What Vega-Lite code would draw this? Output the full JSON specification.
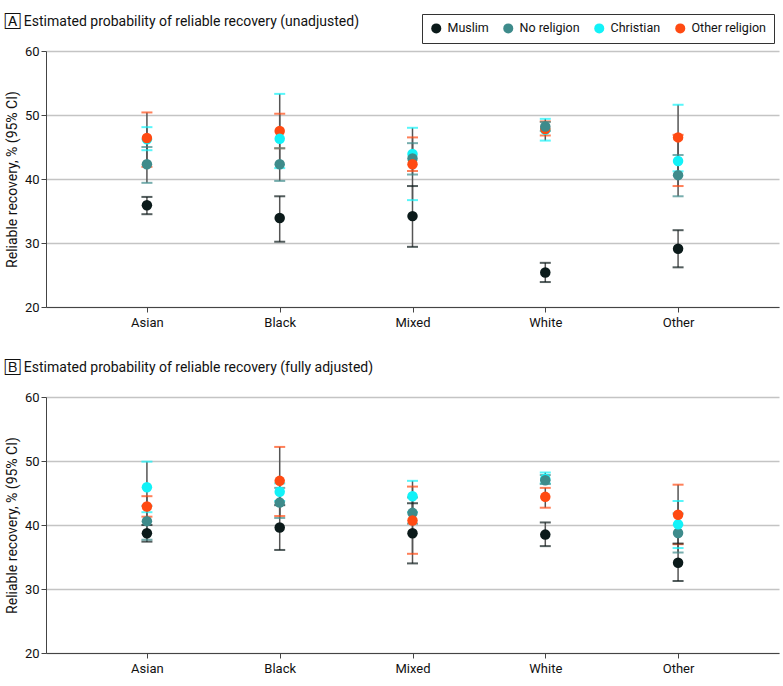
{
  "$schema": "https://vega.github.io/schema/vega-lite/v6.json",
  "padding": {"left": 5, "top": 13, "right": 5, "bottom": 5},
  "background": "white",
  "data": {
    "values": [
      {"panel": "A", "eth": "Asian", "religion": "Muslim", "est": 35.9, "lo": 34.5, "hi": 37.2},
      {"panel": "A", "eth": "Asian", "religion": "No religion", "est": 42.3, "lo": 39.4, "hi": 45.0},
      {"panel": "A", "eth": "Asian", "religion": "Christian", "est": 46.2, "lo": 44.5, "hi": 48.1},
      {"panel": "A", "eth": "Asian", "religion": "Other religion", "est": 46.4, "lo": 41.9, "hi": 50.4},
      {"panel": "A", "eth": "Black", "religion": "Muslim", "est": 33.9, "lo": 30.2, "hi": 37.3},
      {"panel": "A", "eth": "Black", "religion": "No religion", "est": 42.3, "lo": 39.7, "hi": 44.8},
      {"panel": "A", "eth": "Black", "religion": "Other religion", "est": 47.5, "lo": 44.8, "hi": 50.2},
      {"panel": "A", "eth": "Black", "religion": "Christian", "est": 46.3, "lo": 41.7, "hi": 53.3},
      {"panel": "A", "eth": "Mixed", "religion": "Muslim", "est": 34.2, "lo": 29.4, "hi": 38.9},
      {"panel": "A", "eth": "Mixed", "religion": "Christian", "est": 43.9, "lo": 36.7, "hi": 48.0},
      {"panel": "A", "eth": "Mixed", "religion": "No religion", "est": 43.2, "lo": 40.7, "hi": 45.6},
      {"panel": "A", "eth": "Mixed", "religion": "Other religion", "est": 42.3, "lo": 41.25, "hi": 46.5},
      {"panel": "A", "eth": "White", "religion": "Muslim", "est": 25.4, "lo": 23.9, "hi": 26.9},
      {"panel": "A", "eth": "White", "religion": "Christian", "est": 47.7, "lo": 46.0, "hi": 49.4},
      {"panel": "A", "eth": "White", "religion": "Other religion", "est": 47.8, "lo": 46.8, "hi": 49.0},
      {"panel": "A", "eth": "White", "religion": "No religion", "est": 48.2, "lo": 47.5, "hi": 48.9},
      {"panel": "A", "eth": "Other", "religion": "Muslim", "est": 29.1, "lo": 26.2, "hi": 32.0},
      {"panel": "A", "eth": "Other", "religion": "No religion", "est": 40.6, "lo": 37.3, "hi": 43.75},
      {"panel": "A", "eth": "Other", "religion": "Christian", "est": 42.8, "lo": 41.2, "hi": 51.6},
      {"panel": "A", "eth": "Other", "religion": "Other religion", "est": 46.5, "lo": 38.9, "hi": 46.9},
      {"panel": "B", "eth": "Asian", "religion": "Muslim", "est": 38.7, "lo": 37.4, "hi": 40.0},
      {"panel": "B", "eth": "Asian", "religion": "No religion", "est": 40.6, "lo": 37.7, "hi": 43.0},
      {"panel": "B", "eth": "Asian", "religion": "Other religion", "est": 42.9, "lo": 41.3, "hi": 44.5},
      {"panel": "B", "eth": "Asian", "religion": "Christian", "est": 45.9, "lo": 42.0, "hi": 49.9},
      {"panel": "B", "eth": "Black", "religion": "Muslim", "est": 39.6, "lo": 36.1, "hi": 43.1},
      {"panel": "B", "eth": "Black", "religion": "No religion", "est": 43.5, "lo": 41.1, "hi": 45.8},
      {"panel": "B", "eth": "Black", "religion": "Christian", "est": 45.2, "lo": 43.75, "hi": 46.5},
      {"panel": "B", "eth": "Black", "religion": "Other religion", "est": 46.9, "lo": 41.4, "hi": 52.2},
      {"panel": "B", "eth": "Mixed", "religion": "Muslim", "est": 38.7, "lo": 34.0, "hi": 43.4},
      {"panel": "B", "eth": "Mixed", "religion": "Christian", "est": 44.5, "lo": 42.0, "hi": 46.9},
      {"panel": "B", "eth": "Mixed", "religion": "No religion", "est": 41.9, "lo": 40.2, "hi": 44.3},
      {"panel": "B", "eth": "Mixed", "religion": "Other religion", "est": 40.7, "lo": 35.5, "hi": 46.0},
      {"panel": "B", "eth": "White", "religion": "Muslim", "est": 38.5, "lo": 36.7, "hi": 40.4},
      {"panel": "B", "eth": "White", "religion": "Other religion", "est": 44.4, "lo": 42.7, "hi": 45.8},
      {"panel": "B", "eth": "White", "religion": "Christian", "est": 47.2, "lo": 46.5, "hi": 48.2},
      {"panel": "B", "eth": "White", "religion": "No religion", "est": 47.0, "lo": 46.4, "hi": 47.8},
      {"panel": "B", "eth": "Other", "religion": "Muslim", "est": 34.1, "lo": 31.25, "hi": 37.1},
      {"panel": "B", "eth": "Other", "religion": "No religion", "est": 38.75, "lo": 35.7, "hi": 41.8},
      {"panel": "B", "eth": "Other", "religion": "Christian", "est": 40.1, "lo": 36.4, "hi": 43.75},
      {"panel": "B", "eth": "Other", "religion": "Other religion", "est": 41.6, "lo": 37.0, "hi": 46.3}
    ]
  },
  "config": {
    "font": "Roboto",
    "view": {"stroke": null},
    "axis": {
      "domainColor": "#444444",
      "tickColor": "#444444",
      "labelColor": "#111111",
      "titleColor": "#111111",
      "labelFontSize": 13,
      "titleFontSize": 14,
      "titleFontWeight": "normal",
      "tickSize": 5
    },
    "title": {"fontSize": 14, "fontWeight": "normal", "anchor": "start", "frame": "bounds", "color": "#111111", "offset": 16},
    "legend": {
      "orient": "none",
      "direction": "horizontal",
      "legendX": 376,
      "legendY": -37,
      "strokeColor": "#333333",
      "padding": 8,
      "labelFontSize": 12.5,
      "labelColor": "#111111",
      "symbolType": "circle",
      "symbolSize": 100,
      "symbolOpacity": 1,
      "symbolStrokeWidth": 0,
      "columnPadding": 13,
      "labelOffset": 5
    }
  },
  "spacing": 32,
  "vconcat": [
    {
      "title": "🄰 Estimated probability of reliable recovery (unadjusted)",
      "width": 733,
      "height": 256,
      "transform": [{"filter": "datum.panel == 'A'"}],
      "encoding": {
        "x": {"field": "eth", "type": "nominal", "sort": ["Asian", "Black", "Mixed", "White", "Other"],
              "scale": {"type": "point", "padding": 0.76},
              "axis": {"title": null, "labelAngle": 0, "labelPadding": 4}}
      },
      "layer": [
        {"mark": {"type": "rule", "color": "#555555", "strokeWidth": 1.5},
         "encoding": {
           "y": {"field": "lo", "type": "quantitative", "scale": {"domain": [20, 60]},
                 "axis": {"title": "Reliable recovery, % (95% CI)", "values": [20, 30, 40, 50, 60], "gridColor": "#c4c4c4", "gridWidth": 1.5, "titlePadding": 5}},
           "y2": {"field": "hi"}}},
        {"mark": {"type": "tick", "thickness": 2, "size": 11},
         "encoding": {"y": {"field": "lo", "type": "quantitative"},
           "color": {"field": "religion", "type": "nominal", "title": null,
             "scale": {"domain": ["Muslim", "No religion", "Christian", "Other religion"], "range": ["#0b1a1a", "#3e8b8b", "#12f2f8", "#ff4a12"]}}}},
        {"mark": {"type": "tick", "thickness": 2, "size": 11},
         "encoding": {"y": {"field": "hi", "type": "quantitative"}, "color": {"field": "religion", "type": "nominal"}}},
        {"mark": {"type": "circle", "size": 110, "opacity": 1},
         "encoding": {"y": {"field": "est", "type": "quantitative"}, "color": {"field": "religion", "type": "nominal"}}}
      ]
    },
    {
      "title": "🄱 Estimated probability of reliable recovery (fully adjusted)",
      "width": 733,
      "height": 256,
      "transform": [{"filter": "datum.panel == 'B'"}],
      "encoding": {
        "x": {"field": "eth", "type": "nominal", "sort": ["Asian", "Black", "Mixed", "White", "Other"],
              "scale": {"type": "point", "padding": 0.76},
              "axis": {"title": null, "labelAngle": 0, "labelPadding": 4}}
      },
      "layer": [
        {"mark": {"type": "rule", "color": "#555555", "strokeWidth": 1.5},
         "encoding": {
           "y": {"field": "lo", "type": "quantitative", "scale": {"domain": [20, 60]},
                 "axis": {"title": "Reliable recovery, % (95% CI)", "values": [20, 30, 40, 50, 60], "gridColor": "#c4c4c4", "gridWidth": 1.5, "titlePadding": 5}},
           "y2": {"field": "hi"}}},
        {"mark": {"type": "tick", "thickness": 2, "size": 11},
         "encoding": {"y": {"field": "lo", "type": "quantitative"}, "color": {"field": "religion", "type": "nominal"}}},
        {"mark": {"type": "tick", "thickness": 2, "size": 11},
         "encoding": {"y": {"field": "hi", "type": "quantitative"}, "color": {"field": "religion", "type": "nominal"}}},
        {"mark": {"type": "circle", "size": 110, "opacity": 1},
         "encoding": {"y": {"field": "est", "type": "quantitative"}, "color": {"field": "religion", "type": "nominal"}}}
      ]
    }
  ],
  "resolve": {"scale": {"color": "shared"}, "legend": {"color": "shared"}}
}
